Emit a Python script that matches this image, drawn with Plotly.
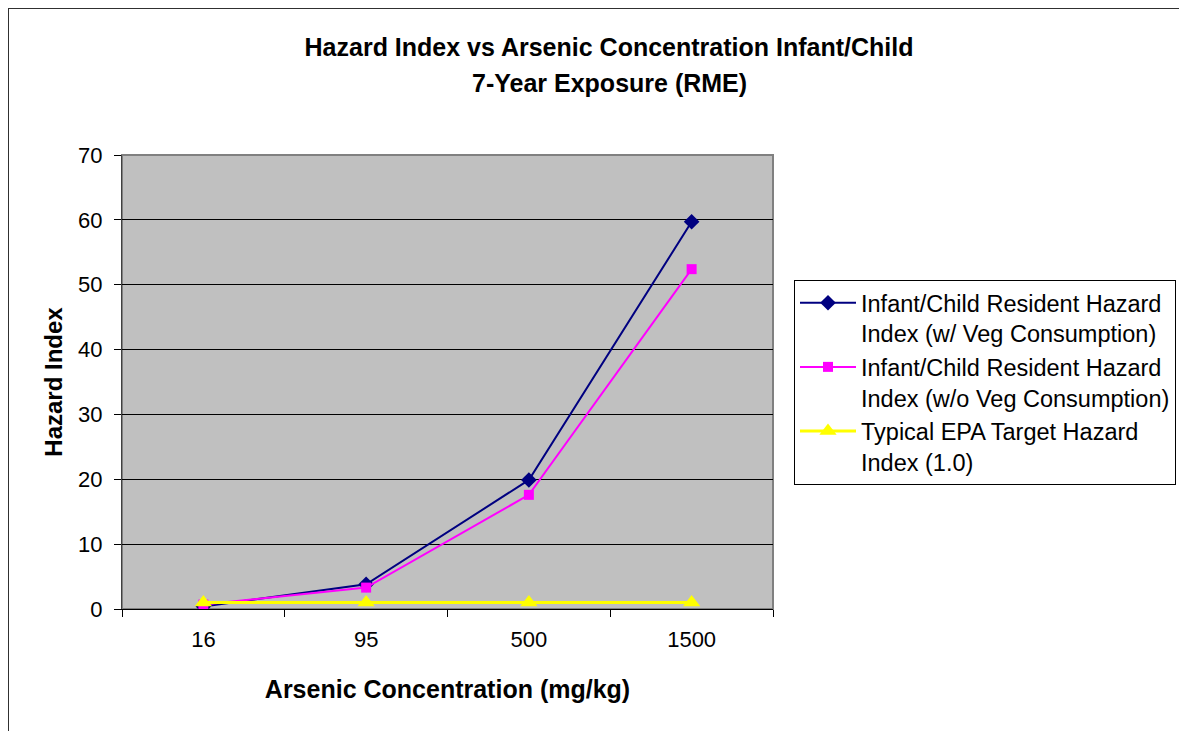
import plotly.graph_objects as go

categories = ["16", "95", "500", "1500"]
hi_with_veg = [0.4, 3.8, 19.9, 59.7]
hi_without_veg = [0.7, 3.3, 17.6, 52.4]
epa_target = [1.0, 1.0, 1.0, 1.0]

names = [
    "Infant/Child Resident Hazard<br>Index (w/ Veg Consumption)",
    "Infant/Child Resident Hazard<br>Index (w/o Veg Consumption)",
    "Typical EPA Target Hazard<br>Index (1.0)",
]

FONT = "Liberation Sans, Arial, sans-serif"

FW, FH = 1179, 723          # figure size (page has an 8px body margin)
OFF = 8                      # page offset of the figure


def fx(x):                   # reference page x -> figure x
    return x - OFF


def fy(y):
    return y - OFF


L, R, T, B = fx(122), FW - fx(773), fy(155), FH - fy(609)
W = FW - L - R
H = FH - T - B


def px(x):                   # reference page x -> paper x
    return (fx(x) - L) / W


def py(y):
    return (FH - B - fy(y)) / H


fig = go.Figure()
fig.add_trace(go.Scatter(x=categories, y=hi_with_veg, name=names[0], mode="lines+markers",
                         line=dict(color="#000080", width=2),
                         marker=dict(symbol="diamond", size=12, color="#000080")))
fig.add_trace(go.Scatter(x=categories, y=hi_without_veg, name=names[1], mode="lines+markers",
                         line=dict(color="#FF00FF", width=2),
                         marker=dict(symbol="square", size=10, color="#FF00FF")))
fig.add_trace(go.Scatter(x=categories, y=epa_target, name=names[2], mode="lines+markers",
                         line=dict(color="#FFFF00", width=3),
                         marker=dict(symbol="triangle-up", size=15, color="#FFFF00")))

fig.update_layout(
    width=FW, height=FH,
    margin=dict(l=L, r=R, t=T, b=B, autoexpand=False),
    paper_bgcolor="white",
    plot_bgcolor="#C0C0C0",
    font=dict(family=FONT, size=22, color="black"),
    title=dict(text="<b>Hazard Index vs Arsenic Concentration Infant/Child</b>",
               x=px(609), xanchor="center", xref="paper",
               y=1 - fy(47) / FH, yanchor="middle", yref="container",
               font=dict(family=FONT, size=25, color="black")),
    showlegend=True,
    legend=dict(x=px(794), y=py(280), xanchor="left", yanchor="top",
                bordercolor="black", borderwidth=1, bgcolor="white",
                font=dict(family=FONT, size=23.5, color="black"),
                valign="top", tracegroupgap=8, itemwidth=56),
)

fig.add_annotation(text="<b>7-Year Exposure (RME)</b>", x=px(609), y=py(83),
                   xref="paper", yref="paper", showarrow=False,
                   font=dict(family=FONT, size=25, color="black"),
                   xanchor="center", yanchor="middle")

fig.update_xaxes(
    type="category", range=[-0.5, len(categories) - 0.5], autorange=False,
    tickson="boundaries", ticks="outside", ticklen=7, tickcolor="black", tickwidth=1,
    ticklabelstandoff=11,
    showline=True, linecolor="black", linewidth=1,
    showgrid=False,
    tickfont=dict(family=FONT, size=22, color="black"),
    title=dict(text="<b>Arsenic Concentration (mg/kg)</b>", standoff=29,
               font=dict(family=FONT, size=25, color="black")),
)
fig.update_yaxes(
    range=[0, 70], dtick=10, tick0=0,
    ticks="outside", ticklen=7, tickcolor="black", tickwidth=1,
    ticklabelstandoff=7,
    showline=True, linecolor="#404040", linewidth=1,
    showgrid=True, gridcolor="black", gridwidth=1, zeroline=False,
    tickfont=dict(family=FONT, size=22, color="black"),
    title=dict(text="<b>Hazard Index</b>", standoff=8,
               font=dict(family=FONT, size=24, color="black")),
)

# plot-area border (grey top/right)
fig.add_shape(type="rect", xref="paper", yref="paper", x0=0, y0=0, x1=1, y1=1,
              line=dict(color="#808080", width=2), fillcolor="rgba(0,0,0,0)", layer="between")
# outer chart frame
fig.add_shape(type="rect", xref="paper", yref="paper",
              x0=px(8), y0=py(745), x1=px(1185), y1=py(8),
              line=dict(color="#303030", width=2), fillcolor="rgba(0,0,0,0)", layer="below")

fig.write_html("out.html")
